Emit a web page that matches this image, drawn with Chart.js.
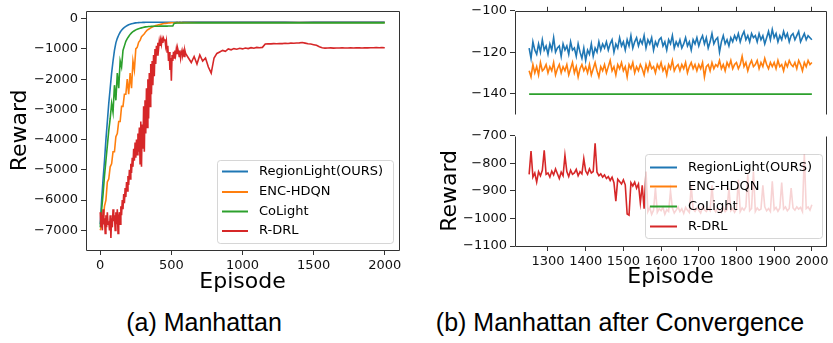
<!DOCTYPE html>
<html>
<head>
<meta charset="utf-8">
<script src="https://cdn.jsdelivr.net/npm/chart.js@4"></script>
<style>
  body { margin: 0; background: #fff; width: 833px; height: 343px; position: relative; overflow: hidden; }
  canvas { position: absolute; }
  .cap { position: absolute; top: 308px; line-height: 30px; font: 25px 'Liberation Sans', Arial, sans-serif; color: #000; text-align: center; white-space: nowrap; }
</style>
</head>
<body>
<canvas id="manhattan" width="420" height="300" style="left:0;top:0"></canvas>
<canvas id="tailTop" width="413" height="125" style="left:420px;top:0"></canvas>
<canvas id="tailBottom" width="413" height="175" style="left:420px;top:125px"></canvas>
<div class="cap" style="left:0;width:408px">(a) Manhattan</div>
<div class="cap" style="left:420px;width:400px">(b) Manhattan after Convergence</div>
<script>
const names = ['RegionLight(OURS)', 'ENC-HDQN', 'CoLight', 'R-DRL']
const colors = ['#1f77b4', '#ff7f0e', '#2ca02c', '#d62728']

function range(a, b, step){
    const out = []
    for (let v = a; v <= b; v += step) out.push(v)
    return out
}

// (a) whole training run
const epFast = range(0, 600, 10).concat(range(700, 2000, 100))
const epRdrl = range(0, 600, 5).concat(range(620, 2000, 20))

const regionLight = [
  -6800,-6000,-5300,-4700,-4000,-3400,-2800,-2300,-1800,-1400,
  -1050,-800,-650,-540,-450,-380,-330,-290,-255,-225,
  -200,-185,-170,-158,-148,-140,-134,-130,-127,-125,
  -123,-122,-121,-121,-120,-120,-119,-120,-119,-119,
  -118,-119,-118,-118,-119,-118,-118,-117,-118,-117,
  -117,-118,-117,-117,-116,-117,-116,-117,-116,-116,
  -116,
  -116,-116,-115,-115,-115,-115,-116,-117,-116,-115,-114,-114,-113,-113
]
const encHdqn = [
  -7000,-6850,-6700,-6200,-6000,-5400,-5300,-4900,-4800,-4400,
  -4400,-3900,-3800,-3400,-3400,-2900,-2900,-2500,-2500,-2000,
  -2500,-1800,-2300,-1400,-1700,-1000,-950,-780,-720,-600,
  -550,-500,-430,-380,-350,-320,-290,-270,-250,-230,
  -215,-200,-190,-180,-170,-160,-155,-150,-145,-140,
  -136,-134,-133,-132,-131,-131,-130,-130,-130,-129,
  -129,
  -129,-129,-128,-128,-128,-127,-128,-128,-127,-127,-126,-126,-126,-126
]
const coLight = [
  -6900,-6300,-5800,-5200,-4700,-4200,-3700,-3300,-2800,-3100,
  -2200,-2700,-1800,-2300,-1400,-1600,-1050,-900,-750,-660,
  -590,-520,-470,-430,-400,-370,-350,-335,-320,-305,
  -290,-280,-272,-265,-260,-257,-255,-253,-252,-250,
  -250,-249,-248,-248,-247,-247,-246,-246,-245,-245,
  -245,-244,-150,-146,-144,-143,-142,-142,-141,-141,
  -141,
  -140,-140,-140,-140,-140,-140,-140,-140,-140,-140,-140,-140,-140,-140
]
const rDrl = [
  -6400,-6900,-6500,-7000,-6300,-6800,-6600,-7100,-6500,-6900,
  -6400,-6800,-6700,-7000,-6500,-7250,-6600,-6900,-6300,-6700,
  -6500,-7000,-6400,-6800,-6300,-7100,-6600,-6400,-6800,-6200,
  -6500,-6000,-6300,-5800,-6100,-5600,-5900,-5400,-5700,-5200,
  -5500,-5000,-5300,-4800,-5100,-4600,-4900,-4300,-4700,-4100,
  -4600,-4000,-4500,-3800,-4400,-3600,-4800,-3400,-4900,-3500,
  -4300,-2900,-4400,-2700,-3800,-2300,-3600,-2000,-3300,-1800,
  -2900,-1500,-2500,-1400,-2200,-1200,-1900,-1000,-1500,-900,
  -1200,-800,-1000,-750,-900,-700,-850,-680,-800,-650,
  -720,-680,-900,-750,-1100,-900,-1400,-1100,-1700,-1300,
  -2050,-1200,-1400,-1100,-1300,-1050,-1200,-1000,-1150,-1000,
  -1100,-1250,-1050,-1300,-1150,-1050,-1200,-1100,-1250,-1050,
  -1150,
  -1300,-1450,-1250,-1500,-1200,-1400,-1300,-1600,-1800,-1300,
  -1150,-1100,-1050,-1080,-1000,-1030,-990,-1010,-980,-1000,
  -970,-990,-960,-980,-950,-960,-950,-840,-830,-835,
  -825,-830,-820,-825,-815,-820,-810,-815,-805,-800,
  -790,-810,-830,-840,-860,-880,-930,-960,-975,-970,
  -965,-975,-968,-972,-965,-970,-968,-962,-970,-965,
  -960,-968,-962,-966,-960,-964,-958,-962,-955,-960
]

// (b) after convergence
const epTail = range(1250, 2000, 5)
const epFlat = [1250, 2000]

const regionLightTail = [
  -118,-123,-115,-119,-121,-116,-120,-114,-119,-117,
  -121,-116,-119,-113,-120,-118,-117,-122,-116,-119,
  -117,-121,-115,-119,-118,-122,-116,-120,-123,-118,
  -124,-119,-121,-116,-122,-118,-120,-115,-119,-116,
  -118,-115,-119,-116,-114,-120,-116,-118,-113,-117,
  -115,-119,-114,-117,-112,-118,-115,-113,-117,-114,
  -116,-112,-118,-114,-116,-113,-119,-115,-117,-114,
  -113,-117,-115,-119,-114,-116,-112,-118,-115,-117,
  -114,-118,-116,-113,-117,-115,-119,-114,-116,-113,
  -117,-114,-112,-116,-113,-118,-115,-111,-116,-114,
  -113,-120,-115,-112,-116,-114,-117,-113,-115,-112,
  -114,-111,-115,-112,-110,-114,-112,-115,-111,-113,
  -112,-115,-111,-114,-112,-116,-113,-110,-114,-109,
  -113,-111,-115,-112,-114,-110,-113,-111,-115,-112,
  -111,-114,-112,-110,-115,-113,-111,-114,-112,-113,
  -114
]
const encHdqnTail = [
  -129,-132,-126,-130,-127,-131,-125,-129,-128,-126,
  -130,-127,-129,-125,-131,-128,-126,-130,-127,-129,
  -126,-131,-128,-125,-130,-127,-132,-128,-126,-129,
  -127,-130,-126,-131,-128,-125,-129,-132,-127,-129,
  -126,-130,-127,-124,-129,-127,-131,-126,-128,-125,
  -129,-127,-132,-126,-128,-125,-130,-127,-129,-126,
  -128,-131,-126,-129,-125,-128,-127,-130,-126,-128,
  -125,-129,-127,-131,-126,-128,-124,-129,-127,-126,
  -129,-126,-128,-125,-130,-127,-125,-128,-126,-129,
  -126,-128,-125,-132,-127,-126,-129,-125,-128,-126,
  -127,-124,-128,-126,-129,-125,-127,-124,-128,-126,
  -125,-128,-126,-122,-127,-125,-129,-126,-124,-127,
  -126,-124,-128,-125,-127,-123,-126,-128,-125,-127,
  -125,-128,-124,-127,-126,-129,-125,-127,-124,-126,
  -127,-125,-128,-124,-126,-129,-125,-127,-124,-126,
  -125
]
const coLightTail = [-140.3, -140.3]
const rDrlTail = [
  -840,-755,-850,-835,-868,-830,-845,-825,-753,-840,
  -835,-850,-828,-842,-820,-838,-855,-832,-845,-771,
  -830,-848,-825,-840,-835,-822,-845,-830,-838,-783,
  -828,-840,-820,-835,-830,-727,-832,-845,-838,-850,
  -842,-855,-848,-862,-850,-870,-937,-858,-866,-875,
  -860,-878,-984,-988,-870,-882,-868,-890,-875,-943,
  -880,-965,-830,-975,-960,-985,-970,-890,-978,-965,
  -972,-960,-985,-968,-975,-900,-962,-980,-970,-958,
  -975,-965,-982,-960,-970,-978,-880,-966,-974,-962,
  -970,-980,-958,-968,-975,-964,-972,-880,-966,-976,
  -962,-970,-978,-960,-975,-968,-890,-972,-964,-978,
  -966,-860,-975,-962,-970,-958,-840,-972,-964,-830,
  -975,-962,-970,-966,-880,-958,-972,-964,-975,-865,
  -968,-960,-974,-962,-870,-966,-958,-972,-964,-890,
  -962,-970,-958,-966,-960,-975,-766,-964,-958,-970,
  -950
]

const xTicksA = [0, 500, 1000, 1500, 2000]
const yTicksA = [0, -1000, -2000, -3000, -4000, -5000, -6000, -7000]
const xTicksB = [1300, 1400, 1500, 1600, 1700, 1800, 1900, 2000]
const yTicksTop = [-100, -120, -140]
const yTicksBottom = [-700, -800, -900, -1000, -1100]

Chart.defaults.font.family = "'DejaVu Sans', sans-serif"
Chart.defaults.color = '#000'

function line(i, xs, ys, order){
    return { label: names[i], data: xs.map((x, k) => ({ x: x, y: ys[k] })),
        borderColor: colors[i], borderWidth: 1.6, pointRadius: 0, tension: 0, fill: false, order: order }
}

function axis(position, min, max, ticks, size, title, pad, showLabels){
    return {
        type: 'linear', position: position, min: min, max: max,
        grid: { drawOnChartArea: false, color: '#333', tickLength: position == 'top' ? 4 : 5 },
        border: { display: false },
        ticks: { display: showLabels !== false, color: '#111', font: { size: 13 }, padding: 3,
            autoSkip: false, maxRotation: 0, callback: v => String(v).replace('-', '\u2212') },
        title: title ? { display: true, text: title, color: '#000', font: { size: 22 }, padding: { top: pad, bottom: pad } } : { display: false },
        afterBuildTicks: s => { s.ticks = ticks.map(v => ({ value: v })) },
        afterFit: s => { s.isHorizontal() ? s.height = size : s.width = size }
    }
}

// spines + matplotlib style legend
const frame = {
    id: 'frame',
    afterDraw(chart, args, opts){
        const ctx = chart.ctx, a = chart.chartArea
        const L = Math.round(a.left) + 0.5, R = Math.round(a.right) + 0.5
        const T = Math.round(a.top) + 0.5, B = Math.round(a.bottom) + 0.5
        ctx.save()
        ctx.strokeStyle = '#333'
        ctx.lineWidth = 1
        ctx.beginPath()
        if (opts.sides.includes('l')) { ctx.moveTo(L, T); ctx.lineTo(L, B) }
        if (opts.sides.includes('r')) { ctx.moveTo(R, T); ctx.lineTo(R, B) }
        if (opts.sides.includes('t')) { ctx.moveTo(L, T); ctx.lineTo(R, T) }
        if (opts.sides.includes('b')) { ctx.moveTo(L, B); ctx.lineTo(R, B) }
        ctx.stroke()
        const lg = opts.legend
        if (lg){
            ctx.beginPath()
            ctx.roundRect(lg.x + 0.5, lg.y + 0.5, lg.w, lg.h, 3)
            ctx.fillStyle = 'rgba(255,255,255,0.8)'
            ctx.fill()
            ctx.strokeStyle = 'rgba(204,204,204,0.8)'
            ctx.stroke()
            ctx.font = "13px 'DejaVu Sans'"
            ctx.textBaseline = 'middle'
            ctx.fillStyle = '#000'
            for (let i = 0; i < names.length; i++){
                ctx.beginPath()
                ctx.strokeStyle = colors[i]
                ctx.lineWidth = 2
                ctx.moveTo(lg.lineX[0], lg.rows[i])
                ctx.lineTo(lg.lineX[1], lg.rows[i])
                ctx.stroke()
                ctx.fillText(names[i], lg.textX, lg.rows[i])
            }
        }
        ctx.restore()
    }
}

const base = { responsive: false, animation: false, events: [] }

new Chart(document.getElementById('manhattan'), {
    type: 'line',
    data: { datasets: [
        line(0, epFast, regionLight, 4), line(1, epFast, encHdqn, 3),
        line(2, epFast, coLight, 2), line(3, epRdrl, rDrl, 1)
    ]},
    options: { ...base,
        layout: { padding: { top: 4, right: 21, left: 0, bottom: 0 } },
        plugins: { legend: { display: false }, tooltip: { enabled: false },
            frame: { sides: 'lrtb', legend: { x: 217, y: 160, w: 176, h: 83, rows: [171.5, 192, 211.5, 231], lineX: [222, 248], textX: 259 } } },
        scales: {
            x: axis('bottom', -100, 2100, xTicksA, 50, 'Episode', 5),
            y: axis('left', -7650, 260, yTicksA, 86, 'Reward', 7)
        }
    },
    plugins: [frame]
})

new Chart(document.getElementById('tailTop'), {
    type: 'line',
    data: { datasets: [
        line(0, epTail, regionLightTail, 3), line(1, epTail, encHdqnTail, 2), line(2, epFlat, coLightTail, 1)
    ]},
    options: { ...base,
        layout: { padding: { top: 0, right: 7, left: 0, bottom: 8 } },
        plugins: { legend: { display: false }, tooltip: { enabled: false }, frame: { sides: 'lrt' } },
        scales: {
            x: axis('top', 1212.5, 2037.5, xTicksB, 4, null, 0, false),
            y: axis('left', -150, -100, yTicksTop, 95, null, 0)
        }
    },
    plugins: [frame]
})

new Chart(document.getElementById('tailBottom'), {
    type: 'line',
    data: { datasets: [ line(3, epTail, rDrlTail, 1) ] },
    options: { ...base,
        layout: { padding: { top: 7, right: 7, left: 0, bottom: 0 } },
        plugins: { legend: { display: false }, tooltip: { enabled: false },
            frame: { sides: 'lrb', legend: { x: 225, y: 29, w: 177, h: 84, rows: [42.5, 61.5, 81.5, 101.5], lineX: [230, 257], textX: 268 } } },
        scales: {
            x: axis('bottom', 1212.5, 2037.5, xTicksB, 54, 'Episode', 10),
            y: axis('left', -1100, -700, yTicksBottom, 95, 'Reward', 17)
        }
    },
    plugins: [frame]
})
</script>
</body>
</html>
